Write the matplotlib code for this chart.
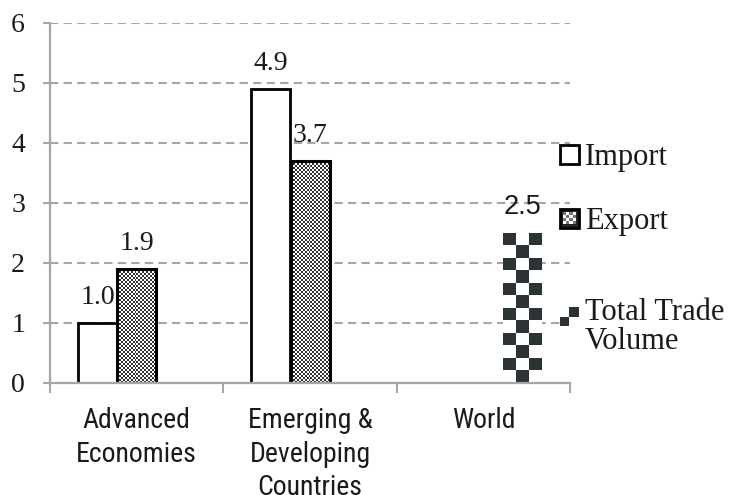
import numpy as np
import matplotlib
matplotlib.use("Agg")
import matplotlib.pyplot as plt
from matplotlib.patches import Rectangle
from matplotlib.colors import ListedColormap
from matplotlib.legend_handler import HandlerBase

# ---- data -------------------------------------------------------------
categories = ["Advanced\nEconomies", "Emerging &\nDeveloping\nCountries", "World"]
series_names = ["Import", "Export", "Total Trade\nVolume"]
import_vals = [1.0, 4.9, np.nan]
export_vals = [1.9, 3.7, np.nan]
total_vals = [np.nan, np.nan, 2.5]
y_ticks = [0, 1, 2, 3, 4, 5, 6]

# ---- style ------------------------------------------------------------
SERIF = ["Liberation Serif", "DejaVu Serif"]
SANS = ["Liberation Sans", "DejaVu Sans"]
SANS_NARROW = ["Roboto Condensed", "Liberation Sans Narrow", "Liberation Sans"]
DARK = "#2b3334"
GRID = "#a6a6a6"
TEXT = "#1a1a1a"

fig = plt.figure(figsize=(7.37, 4.95), dpi=100)
ax = fig.add_axes([50 / 737, 112 / 495, 520 / 737, 360 / 495])

x = np.arange(len(categories))
w = 0.225
ax.set_xlim(-0.5, len(categories) - 0.5)
ax.set_ylim(y_ticks[0], y_ticks[-1])

b_imp = ax.bar(x - w, import_vals, w, facecolor="white", edgecolor="black",
               linewidth=2.0, zorder=3)
b_exp = ax.bar(x, export_vals, w, fill=False, edgecolor="black",
               linewidth=2.2, zorder=4)
b_tot = ax.bar(x + w, total_vals, w, fill=False, linewidth=0, zorder=4)


def checker_fill(rect, cell_w_px, cell_h_px, dark, zorder):
    """Fill a bar with a checkerboard clipped to the bar outline."""
    x0, bw, h = rect.get_x(), rect.get_width(), rect.get_height()
    if not np.isfinite(h) or h <= 0:
        return
    p0 = ax.transData.transform((x0, 0))
    p1 = ax.transData.transform((x0 + bw, h))
    nx = max(1, int(round((p1[0] - p0[0]) / cell_w_px)))
    ny = max(1, int(round((p1[1] - p0[1]) / cell_h_px)))
    grid = (np.add.outer(np.arange(ny), np.arange(nx)) + 1) % 2
    im = ax.imshow(grid, cmap=ListedColormap(["white", dark]),
                   extent=(x0, x0 + bw, 0, h), origin="upper",
                   interpolation="nearest", aspect="auto", zorder=zorder)
    im.set_clip_path(rect)


for r in b_exp:
    checker_fill(r, 2.0, 2.0, "#333333", 3.5)
for r in b_tot:
    checker_fill(r, 12.8, 12.6, DARK, 3.5)

ax.set_xlim(-0.5, len(categories) - 0.5)
ax.set_ylim(y_ticks[0], y_ticks[-1])
ax.set_aspect("auto")


# ---- value labels -----------------------------------------------------
def label_bars(bars, vals, family, size):
    for rect, v in zip(bars, vals):
        if np.isfinite(v):
            ax.annotate(f"{v:.1f}", (rect.get_x() + rect.get_width() / 2, v),
                        xytext=(0, 14), textcoords="offset points",
                        ha="center", va="baseline", fontsize=size,
                        family=family, color=TEXT, zorder=6)


label_bars(b_imp, import_vals, SERIF, 20)
label_bars(b_exp, export_vals, SERIF, 20)
label_bars(b_tot, total_vals, SANS, 19.5)

# ---- axes -------------------------------------------------------------
for s in ("top", "right"):
    ax.spines[s].set_visible(False)
for s in ("left", "bottom"):
    ax.spines[s].set_color(GRID)
    ax.spines[s].set_linewidth(1.6)
    ax.spines[s].set_zorder(5)

ax.set_yticks(y_ticks)
ax.set_yticklabels([str(t) for t in y_ticks], family=SERIF, fontsize=20,
                   color=TEXT)
ax.tick_params(axis="y", length=5, width=1.5, color=GRID, pad=13)
ax.yaxis.grid(True, linestyle=(0, (4, 2.5)), color=GRID, linewidth=1.5)
ax.set_axisbelow(True)

ax.set_xticks(x)
ax.set_xticklabels(categories, family=SANS_NARROW, fontsize=20, color=TEXT)
ax.set_xticks(np.arange(len(categories) + 1) - 0.5, minor=True)
ax.tick_params(axis="x", which="major", length=0, pad=17)
ax.tick_params(axis="x", which="minor", length=7, width=1.5, color=GRID)
for t in ax.get_xticklabels():
    t.set_linespacing(1.33)


# ---- legend -----------------------------------------------------------
class KeyHandler(HandlerBase):
    def __init__(self, kind, lift=0.0):
        super().__init__()
        self.kind = kind
        self.lift = lift

    def create_artists(self, legend, orig_handle, xdescent, ydescent,
                       width, height, fontsize, trans):
        x0, y0 = -xdescent, -ydescent + self.lift
        s = min(width, height)
        arts = []
        if self.kind == "import":
            arts.append(Rectangle((x0, y0), s, s, facecolor="white",
                                  edgecolor="black", lw=2.0, transform=trans))
        elif self.kind == "export":
            arts.append(Rectangle((x0, y0), s, s, facecolor="#222222",
                                  edgecolor="black", lw=2.0, transform=trans))
            n = 4
            pad = s * 0.18
            c = (s - 2 * pad) / n
            for i in range(n):
                for j in range(n):
                    col = "white" if (i + j) % 2 == 0 else "#777777"
                    arts.append(Rectangle((x0 + pad + j * c, y0 + pad + i * c),
                                          c, c, facecolor=col, lw=0,
                                          transform=trans))
        else:
            c = s / 2
            for i in range(2):
                for j in range(2):
                    col = DARK if (i + j) % 2 == 0 else "white"
                    arts.append(Rectangle((x0 + j * c, y0 + i * c), c, c,
                                          facecolor=col, lw=0,
                                          transform=trans))
        return arts


def add_key(label, kind, y_px, lift=0.0):
    h = Rectangle((0, 0), 1, 1)
    leg = fig.legend([h], [label], loc="center left",
                     bbox_to_anchor=(560 / 737, 1 - y_px / 495),
                     frameon=False, borderpad=0, borderaxespad=0,
                     handlelength=0.62, handleheight=0.62, handletextpad=0.2,
                     prop={"family": SERIF, "size": 22},
                     handler_map={Rectangle: KeyHandler(kind, lift)})
    for t in leg.get_texts():
        t.set_color(TEXT)
        t.set_linespacing(1.02)
    return leg


add_key(series_names[0], "import", 157)
add_key(series_names[1], "export", 221)
add_key(series_names[2], "total", 327, lift=8)

fig.savefig("out.png", dpi=100)
